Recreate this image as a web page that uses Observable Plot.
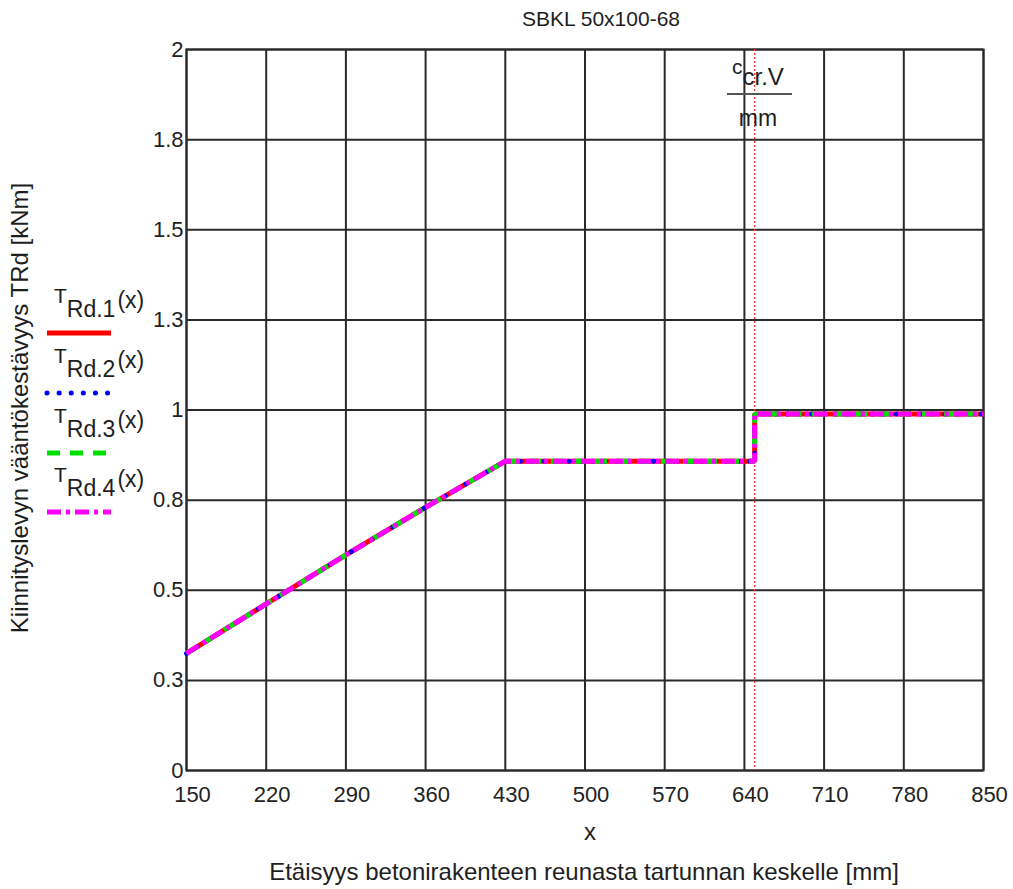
<!DOCTYPE html>
<html>
<head>
<meta charset="utf-8">
<script src="https://cdn.jsdelivr.net/npm/d3@7"></script>
<script src="https://cdn.jsdelivr.net/npm/@observablehq/plot@0.6"></script>
<style>
  html, body { margin: 0; padding: 0; background: #fff; }
  #chart { position: relative; width: 1013px; height: 889px; }
</style>
</head>
<body>
<div id="chart"></div>
<script>
// ---- Data ----
const xValues = [150, 220, 290, 360, 430, 649, 649, 850];
const trd1 = [0.325, 0.462, 0.598, 0.730, 0.858, 0.858, 0.989, 0.989];
const trd2 = [0.325, 0.462, 0.598, 0.730, 0.858, 0.858, 0.989, 0.989];
const trd3 = [0.325, 0.462, 0.598, 0.730, 0.858, 0.858, 0.989, 0.989];
const trd4 = [0.325, 0.462, 0.598, 0.730, 0.858, 0.858, 0.989, 0.989];
const cCrV = 649;

const xTicks = [150, 220, 290, 360, 430, 500, 570, 640, 710, 780, 850];
const yTicks = [0, 0.25, 0.5, 0.75, 1, 1.25, 1.5, 1.75, 2];
const yTickLabels = ["0", "0.3", "0.5", "0.8", "1", "1.3", "1.5", "1.8", "2"];

const seriesNames = ["1", "2", "3", "4"];
const seriesColors = ["#ff0000", "#0000ff", "#00e000", "#ff00ff"];
const seriesDash = [null, "0.1,12", "12,10", "14,5,4,5"];

const titleText = "SBKL 50x100-68";
const xLabel = "x";
const xCaption = "Etäisyys betonirakenteen reunasta tartunnan keskelle [mm]";
const yLabel = "Kiinnityslevyn vääntökestävyys TRd [kNm]";

const seriesValues = [trd1, trd2, trd3, trd4];
const tables = seriesValues.map(vals => xValues.map((x, i) => ({x, y: vals[i]})));

const gridColor = "#2a2a2a";

const lineMarks = tables.map((t, k) => Plot.line(t, {
  x: "x", y: "y",
  stroke: seriesColors[k],
  strokeWidth: 5,
  strokeDasharray: seriesDash[k],
  strokeLinecap: k === 1 ? "round" : "butt",
  strokeLinejoin: "miter"
}));

const chart = Plot.plot({
  width: 1013,
  height: 889,
  marginLeft: 186,
  marginRight: 30,
  marginTop: 49,
  marginBottom: 119,
  style: {fontFamily: "'Liberation Sans', Arial, sans-serif", fontSize: "22px", color: "#222", background: "#fff"},
  x: {domain: [150, 850], ticks: xTicks},
  y: {domain: [0, 2], ticks: yTicks},
  marks: [
    Plot.gridX({ticks: xTicks, stroke: gridColor, strokeOpacity: 1, strokeWidth: 2}),
    Plot.gridY({ticks: yTicks, stroke: gridColor, strokeOpacity: 1, strokeWidth: 2}),
    Plot.frame({stroke: gridColor, strokeWidth: 2}),
    Plot.ruleX([cCrV], {stroke: "#ff3333", strokeWidth: 1.3, strokeDasharray: "2,2"}),
    ...lineMarks,
    Plot.axisX({ticks: xTicks, tickSize: 0, tickPadding: 16, dx: 6, label: null, fontSize: 22, tickFormat: d => String(d)}),
    Plot.axisY({ticks: yTicks, tickSize: 0, tickPadding: 3, label: null, fontSize: 22, dy: 0,
                tickFormat: d => yTickLabels[yTicks.indexOf(d)]})
  ]
});

document.getElementById("chart").appendChild(chart);

// ---- Titles, legend and annotation ----
const svg = d3.select(chart);
const font = "'Liberation Sans', Arial, sans-serif";
const txtColor = "#1e1e1e";

svg.append("text").attr("x", 601).attr("y", 26).attr("text-anchor", "middle")
  .attr("font-family", font).attr("font-size", 21).attr("fill", txtColor).text(titleText);

svg.append("text").attr("x", 590).attr("y", 840).attr("text-anchor", "middle")
  .attr("font-family", font).attr("font-size", 24).attr("fill", txtColor).text(xLabel);

svg.append("text").attr("x", 584).attr("y", 880).attr("text-anchor", "middle")
  .attr("font-family", font).attr("font-size", 24).attr("fill", txtColor).text(xCaption);

svg.append("text").attr("transform", "translate(28,408) rotate(-90)").attr("text-anchor", "middle")
  .attr("font-family", font).attr("font-size", 24).attr("fill", txtColor).text(yLabel);

// Legend
const legendLineY = [333, 393, 453, 512];
const legendDash = [null, "0.1,12", "13,10", "14,5,4,5"];
seriesNames.forEach((n, k) => {
  const ly = legendLineY[k];
  const t = svg.append("text").attr("font-family", font).attr("fill", txtColor)
    .attr("text-anchor", "start").attr("x", 54).attr("y", ly - 30);
  t.append("tspan").attr("font-size", 21).text("T");
  t.append("tspan").attr("font-size", 23).attr("dy", 14).text("Rd." + n);
  t.append("tspan").attr("font-size", 23).attr("dy", -9).attr("dx", 2).text("(x)");
  svg.append("line").attr("x1", 47).attr("x2", 111).attr("y1", ly).attr("y2", ly)
    .attr("stroke", seriesColors[k]).attr("stroke-width", 5)
    .attr("stroke-dasharray", legendDash[k])
    .attr("stroke-linecap", k === 1 ? "round" : "butt");
});

// c_cr.V / mm annotation
const ann = svg.append("text").attr("font-family", font).attr("fill", txtColor)
  .attr("text-anchor", "start").attr("x", 732).attr("y", 74);
ann.append("tspan").attr("font-size", 21).text("c");
ann.append("tspan").attr("font-size", 24).attr("dy", 11).text("cr.V");
svg.append("line").attr("x1", 727).attr("x2", 792).attr("y1", 94).attr("y2", 94)
  .attr("stroke", "#555").attr("stroke-width", 2);
svg.append("text").attr("font-family", font).attr("fill", txtColor).attr("font-size", 23)
  .attr("x", 758).attr("y", 126).attr("text-anchor", "middle").text("mm");
</script>
</body>
</html>
